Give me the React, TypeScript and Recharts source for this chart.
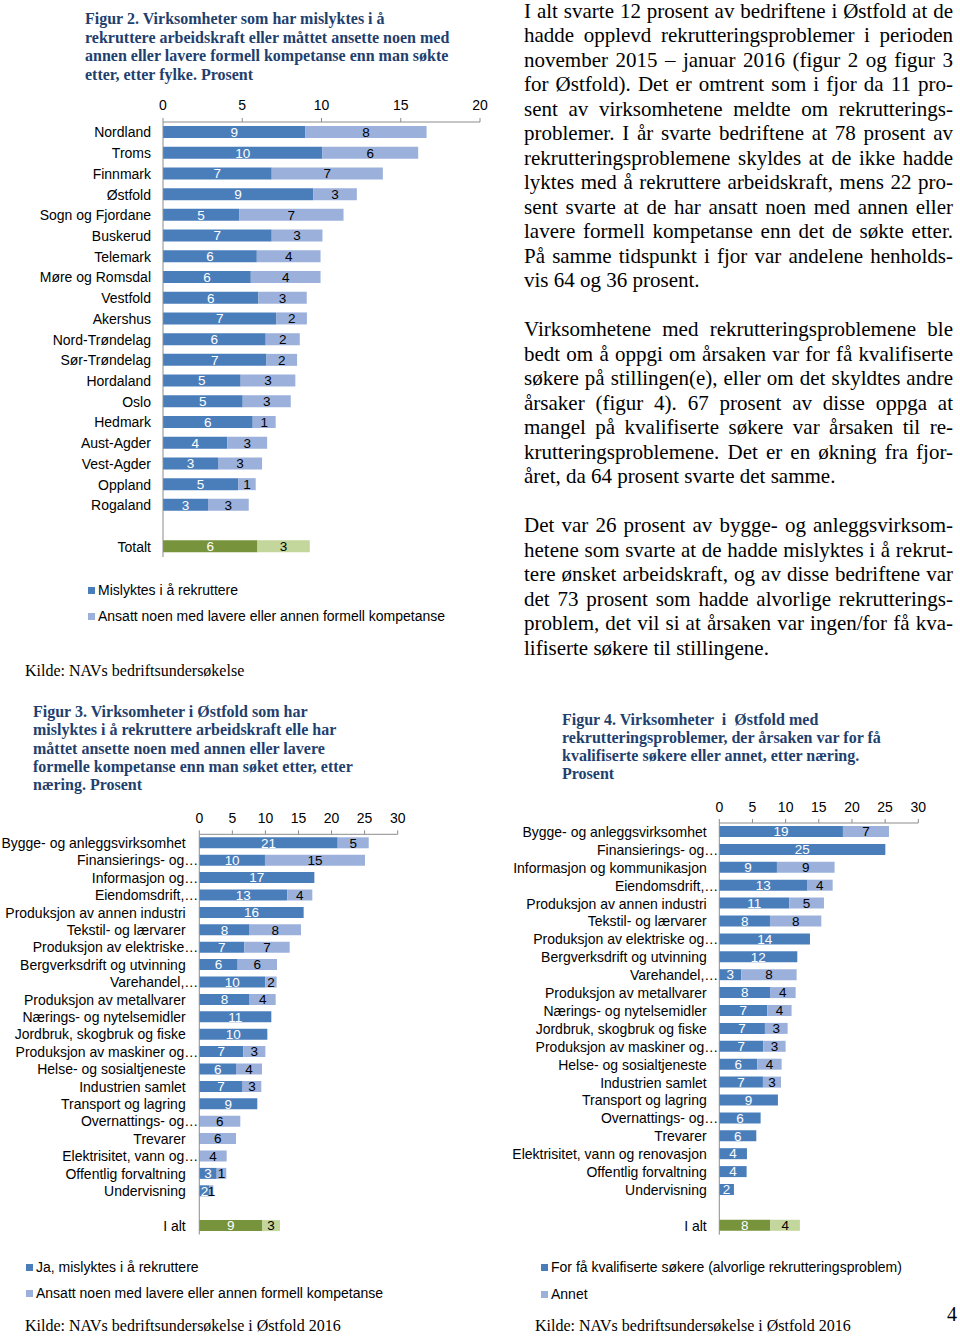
import React from "react";
import { BarChart, Bar, XAxis, YAxis, LabelList, Cell } from "recharts";

// Figur 2 – per fylke
const fig2Categories = [
  "Nordland", "Troms", "Finnmark", "Østfold", "Sogn og Fjordane", "Buskerud",
  "Telemark", "Møre og Romsdal", "Vestfold", "Akershus", "Nord-Trøndelag",
  "Sør-Trøndelag", "Hordaland", "Oslo", "Hedmark", "Aust-Agder", "Vest-Agder",
  "Oppland", "Rogaland", "", "Totalt",
];
const fig2Failed = [8.99, 10.06, 6.86, 9.47, 4.8, 6.86, 5.92, 5.54, 6.02, 7.16, 6.48, 6.53, 4.9, 5.03, 5.66, 4.06, 3.47, 4.74, 2.84, null, 5.96];
const fig2Other = [7.64, 6.04, 7.01, 2.76, 6.59, 3.2, 4.02, 4.4, 3.05, 1.92, 2.15, 1.93, 3.45, 3.03, 1.45, 2.51, 2.78, 1.11, 2.57, null, 3.3];
const fig2Ticks = [0, 5, 10, 15, 20];

// Figur 3 – Østfold per næring
const fig3Categories = [
  "Bygge- og anleggsvirksomhet", "Finansierings- og…", "Informasjon og…", "Eiendomsdrift,…",
  "Produksjon av annen industri", "Tekstil- og lærvarer", "Produksjon av elektriske…",
  "Bergverksdrift og utvinning", "Varehandel,…", "Produksjon av metallvarer",
  "Nærings- og nytelsemidler", "Jordbruk, skogbruk og fiske", "Produksjon av maskiner og…",
  "Helse- og sosialtjeneste", "Industrien samlet", "Transport og lagring", "Overnattings- og…",
  "Trevarer", "Elektrisitet, vann og…", "Offentlig forvaltning", "Undervisning", "", "I alt",
];
const fig3Failed = [20.93, 9.93, 17.4, 13.31, 15.78, 7.61, 6.81, 5.8, 9.98, 7.61, 10.89, 10.29, 6.66, 5.55, 6.55, 8.77, null, null, null, 2.63, 1.55, null, 9.48];
const fig3Other = [4.69, 15.13, null, 3.78, null, 7.77, 6.86, 5.95, 1.72, 3.94, null, null, 3.33, 3.93, 2.83, null, 6.2, 5.55, 4.14, 1.45, 0.57, null, 2.72];

// Figur 4 – årsak, Østfold per næring
const fig4Categories = [
  "Bygge- og anleggsvirksomhet", "Finansierings- og…", "Informasjon og kommunikasjon",
  "Eiendomsdrift,…", "Produksjon av annen industri", "Tekstil- og lærvarer",
  "Produksjon av elektriske og…", "Bergverksdrift og utvinning", "Varehandel,…",
  "Produksjon av metallvarer", "Nærings- og nytelsemidler", "Jordbruk, skogbruk og fiske",
  "Produksjon av maskiner og…", "Helse- og sosialtjeneste", "Industrien samlet",
  "Transport og lagring", "Overnattings- og…", "Trevarer", "Elektrisitet, vann og renovasjon",
  "Offentlig forvaltning", "Undervisning", "", "I alt",
];
const fig4Qualified = [18.64, 25.03, 8.69, 13.22, 10.55, 7.64, 13.67, 11.76, 3.32, 7.64, 7.24, 6.88, 6.63, 5.73, 6.58, 8.84, 6.23, 5.58, 4.17, 4.12, 2.21, null, 7.7];
const fig4Other = [6.94, null, 8.69, 3.87, 5.23, 7.74, null, null, 8.34, 3.87, 3.66, 3.42, 3.37, 3.67, 2.72, null, null, null, null, null, null, null, 4.45];
const wideTicks = [0, 5, 10, 15, 20, 25, 30];

const textLines = [
  "I alt svarte 12 prosent av bedriftene i Østfold at de",
  "hadde opplevd rekrutteringsproblemer i perioden",
  "november 2015 – januar 2016 (figur 2 og figur 3",
  "for Østfold). Det er omtrent som i fjor da 11 pro-",
  "sent av virksomhetene meldte om rekrutterings-",
  "problemer. I år svarte bedriftene at 78 prosent av",
  "rekrutteringsproblemene skyldes at de ikke hadde",
  "lyktes med å rekruttere arbeidskraft, mens 22 pro-",
  "sent svarte at de har ansatt noen med annen eller",
  "lavere formell kompetanse enn det de søkte etter.",
  "På samme tidspunkt i fjor var andelene henholds-",
  "vis 64 og 36 prosent.",
  "",
  "Virksomhetene med rekrutteringsproblemene ble",
  "bedt om å oppgi om årsaken var for få kvalifiserte",
  "søkere på stillingen(e), eller om det skyldtes andre",
  "årsaker (figur 4). 67 prosent av disse oppga at",
  "mangel på kvalifiserte søkere var årsaken til re-",
  "krutteringsproblemene. Det er en økning fra fjor-",
  "året, da 64 prosent svarte det samme.",
  "",
  "Det var 26 prosent av bygge- og anleggsvirksom-",
  "hetene som svarte at de hadde mislyktes i å rekrut-",
  "tere ønsket arbeidskraft, og av disse bedriftene var",
  "det 73 prosent som hadde alvorlige rekrutterings-",
  "problem, det vil si at årsaken var ingen/for få kva-",
  "lifiserte søkere til stillingene.",
];
const lastLines = [11, 19, 26];

const DARK = "#4A7EBB";
const LIGHT = "#9BB1DC";
const GREEN = "#77933C";
const LIGHT_GREEN = "#C3D69B";
const AXIS = "#8C8C8C";
const TITLE = "#1F3F6E";
const SANS = "'Liberation Sans', Arial, sans-serif";
const SERIF = "'Liberation Serif', 'Times New Roman', serif";

const fmt = (v: any) => (v ? Math.round(Number(v)) : "");

function buildRows(cats: string[], a: (number | null)[], b: (number | null)[]) {
  return cats.map((name, i) => ({
    name,
    a: a[i],
    b: b[i],
    total: name === "Totalt" || name === "I alt",
  }));
}

function makeTick(gap: number) {
  return (props: any) => {
    const { x, y, payload } = props;
    const label = String(payload.value);
    const dx = label.endsWith("…") ? 1 : gap;
    return (
      <text x={x - dx} y={y} dy={5} textAnchor="end" fontSize={14} fill="#000" fontFamily={SANS}>
        {label}
      </text>
    );
  };
}

interface StackProps {
  rows: any[];
  width: number;
  height: number;
  top: number;
  yWidth: number;
  ticks: number[];
  barSize: number;
  gap: number;
  tickMargin: number;
}

function StackChart({ rows, width, height, top, yWidth, ticks, barSize, gap, tickMargin }: StackProps) {
  return (
    <BarChart
      width={width}
      height={height}
      data={rows}
      layout="vertical"
      margin={{ top, right: 20, left: 0, bottom: 0 }}
      style={{ fontFamily: SANS }}
    >
      <XAxis
        type="number"
        orientation="top"
        domain={[ticks[0], ticks[ticks.length - 1]]}
        ticks={ticks}
        interval={0}
        height={30}
        tickSize={4}
        tickMargin={tickMargin}
        axisLine={{ stroke: AXIS }}
        tickLine={{ stroke: AXIS }}
        tick={{ fontSize: 14, fill: "#000", fontFamily: SANS }}
      />
      <YAxis
        type="category"
        dataKey="name"
        width={yWidth}
        interval={0}
        tickLine={false}
        tickSize={0}
        tickMargin={0}
        axisLine={{ stroke: AXIS }}
        tick={makeTick(gap)}
      />
      <Bar dataKey="a" stackId="s" fill={DARK} barSize={barSize} isAnimationActive={false}>
        {rows.map((r, i) => (
          <Cell key={i} fill={r.total ? GREEN : DARK} />
        ))}
        <LabelList dataKey="a" position="center" fill="#fff" fontSize={13.5} fontFamily={SANS} formatter={fmt} />
      </Bar>
      <Bar dataKey="b" stackId="s" fill={LIGHT} barSize={barSize} isAnimationActive={false}>
        {rows.map((r, i) => (
          <Cell key={i} fill={r.total ? LIGHT_GREEN : LIGHT} />
        ))}
        <LabelList dataKey="b" position="center" fill="#000" fontSize={13.5} fontFamily={SANS} formatter={fmt} />
      </Bar>
    </BarChart>
  );
}

function Title({ lines, left, top, step }: { lines: string[]; left: number; top: number; step: number }) {
  return (
    <div style={{ position: "absolute", left, top, fontFamily: SERIF, fontWeight: "bold", fontSize: 16, lineHeight: `${step}px`, color: TITLE, whiteSpace: "pre" }}>
      {lines.map((l, i) => (
        <div key={i}>{l}</div>
      ))}
    </div>
  );
}

function LegendItem({ left, top, color, label }: { left: number; top: number; color: string; label: string }) {
  return (
    <div style={{ position: "absolute", left, top, height: 16, display: "flex", alignItems: "center", fontFamily: SANS, fontSize: 14, whiteSpace: "nowrap" }}>
      <span style={{ display: "inline-block", width: 7, height: 7, background: color, marginRight: 3 }} />
      {label}
    </div>
  );
}

function Note({ left, top, text }: { left: number; top: number; text: string }) {
  return (
    <div style={{ position: "absolute", left, top, fontFamily: SERIF, fontSize: 16, lineHeight: "18px", whiteSpace: "nowrap" }}>{text}</div>
  );
}

export default function App() {
  const fig2 = buildRows(fig2Categories, fig2Failed, fig2Other);
  const fig3 = buildRows(fig3Categories, fig3Failed, fig3Other);
  const fig4 = buildRows(fig4Categories, fig4Qualified, fig4Other);

  return (
    <div style={{ position: "absolute", left: 0, top: 0, width: 960, height: 1336, background: "#fff", overflow: "hidden" }}>
      <Title
        left={85}
        top={10.3}
        step={18.5}
        lines={[
          "Figur 2. Virksomheter som har mislyktes i å",
          "rekruttere arbeidskraft eller måttet ansette noen med",
          "annen eller lavere formell kompetanse enn man søkte",
          "etter, etter fylke. Prosent",
        ]}
      />
      <div style={{ position: "absolute", left: 0, top: 80 }}>
        <StackChart rows={fig2} width={500} height={477} top={12} yWidth={163} ticks={fig2Ticks} barSize={12} gap={12} tickMargin={8} />
      </div>
      <LegendItem left={88} top={582} color={DARK} label="Mislyktes i å rekruttere" />
      <LegendItem left={88} top={608} color={LIGHT} label="Ansatt noen med lavere eller annen formell kompetanse" />
      <Note left={25} top={661.6} text="Kilde: NAVs bedriftsundersøkelse" />

      <div style={{ position: "absolute", left: 524, top: -1.5, width: 429, fontFamily: SERIF, fontSize: 21, lineHeight: "24.5px", color: "#000" }}>
        {textLines.map((l, i) => (
          <div
            key={i}
            style={{
              height: 24.5,
              whiteSpace: "nowrap",
              textAlign: "justify",
              textAlignLast: lastLines.includes(i) || l === "" ? "left" : "justify",
            }}
          >
            {l}
          </div>
        ))}
      </div>

      <Title
        left={33}
        top={703}
        step={18.25}
        lines={[
          "Figur 3. Virksomheter i Østfold som har",
          "mislyktes i å rekruttere arbeidskraft elle har",
          "måttet ansette noen med annen eller lavere",
          "formelle kompetanse enn man søket etter, etter",
          "næring. Prosent",
        ]}
      />
      <div style={{ position: "absolute", left: 0, top: 790 }}>
        <StackChart rows={fig3} width={417.7} height={444.5} top={14.3} yWidth={199.3} ticks={wideTicks} barSize={11} gap={13.6} tickMargin={7} />
      </div>
      <LegendItem left={26} top={1259} color={DARK} label="Ja, mislyktes i å rekruttere" />
      <LegendItem left={26} top={1285} color={LIGHT} label="Ansatt noen med lavere eller annen formell kompetanse" />
      <Note left={25} top={1316.6} text="Kilde: NAVs bedriftsundersøkelse i Østfold 2016" />

      <Title
        left={562}
        top={711.3}
        step={18}
        lines={[
          "Figur 4. Virksomheter  i  Østfold med",
          "rekrutteringsproblemer, der årsaken var for få",
          "kvalifiserte søkere eller annet, etter næring.",
          "Prosent",
        ]}
      />
      <div style={{ position: "absolute", left: 500, top: 780 }}>
        <StackChart rows={fig4} width={438.3} height={454.7} top={13} yWidth={219.3} ticks={wideTicks} barSize={11} gap={12.6} tickMargin={7} />
      </div>
      <LegendItem left={541} top={1259} color={DARK} label="For få kvalifiserte søkere (alvorlige rekrutteringsproblem)" />
      <LegendItem left={541} top={1286} color={LIGHT} label="Annet" />
      <Note left={535} top={1316.6} text="Kilde: NAVs bedriftsundersøkelse i Østfold 2016" />

      <div style={{ position: "absolute", left: 947, top: 1302, fontFamily: SERIF, fontSize: 20, lineHeight: "24px" }}>4</div>
    </div>
  );
}
